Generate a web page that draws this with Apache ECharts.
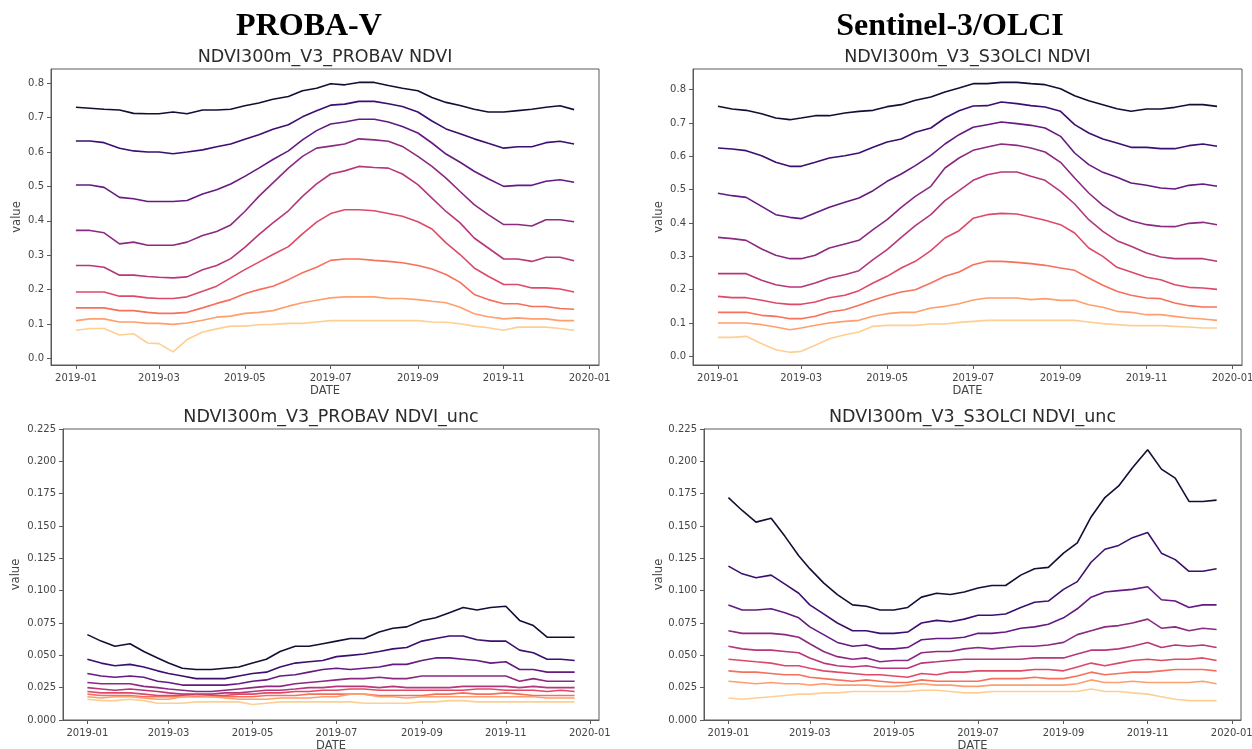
<!DOCTYPE html>
<html>
<head>
<meta charset="utf-8">
<title>NDVI300m V3 - PROBA-V / Sentinel-3 OLCI</title>
<script src="https://cdn.jsdelivr.net/npm/echarts@6/dist/echarts.min.js"></script>
<style>
  html, body { margin: 0; padding: 0; background: #fff; }
  #main { width: 1252px; height: 749px; }
</style>
</head>
<body>
<div id="main"></div>
<script>
// dekads of 2019
var dates = [
  '2019-01-01', '2019-01-11', '2019-01-21', '2019-02-01', '2019-02-11', '2019-02-21',
  '2019-03-01', '2019-03-11', '2019-03-21', '2019-04-01', '2019-04-11', '2019-04-21',
  '2019-05-01', '2019-05-11', '2019-05-21', '2019-06-01', '2019-06-11', '2019-06-21',
  '2019-07-01', '2019-07-11', '2019-07-21', '2019-08-01', '2019-08-11', '2019-08-21',
  '2019-09-01', '2019-09-11', '2019-09-21', '2019-10-01', '2019-10-11', '2019-10-21',
  '2019-11-01', '2019-11-11', '2019-11-21', '2019-12-01', '2019-12-11', '2019-12-21'
];
var monthTicks = ['2019-01-01', '2019-03-01', '2019-05-01', '2019-07-01', '2019-09-01', '2019-11-01', '2020-01-01'];
var ndviTicks = [0, 0.1, 0.2, 0.3, 0.4, 0.5, 0.6, 0.7, 0.8];
var uncTicks = [0, 0.025, 0.05, 0.075, 0.1, 0.125, 0.15, 0.175, 0.2, 0.225];

// magma, dark (top line) -> light (bottom line)
var magma = ['#140e36', '#3b0f70', '#641a80', '#8c2981', '#b73779', '#de4968', '#f7705c', '#fe9f6d', '#fecf92'];

// PROBA-V NDVI, one row per line, top to bottom
var probavNdvi = [
  [0.730, 0.727, 0.724, 0.722, 0.712, 0.711, 0.711, 0.716, 0.711, 0.722, 0.722, 0.724, 0.734, 0.742, 0.753, 0.761, 0.778, 0.785, 0.798, 0.795, 0.802, 0.802, 0.793, 0.785, 0.778, 0.758, 0.744, 0.735, 0.724, 0.716, 0.716, 0.720, 0.724, 0.730, 0.734, 0.723],
  [0.632, 0.632, 0.627, 0.611, 0.603, 0.600, 0.600, 0.595, 0.600, 0.606, 0.615, 0.623, 0.637, 0.650, 0.666, 0.679, 0.702, 0.720, 0.736, 0.739, 0.747, 0.747, 0.740, 0.732, 0.716, 0.690, 0.667, 0.653, 0.638, 0.625, 0.611, 0.615, 0.615, 0.627, 0.631, 0.623],
  [0.504, 0.504, 0.497, 0.468, 0.464, 0.456, 0.456, 0.456, 0.459, 0.478, 0.490, 0.507, 0.529, 0.553, 0.578, 0.603, 0.635, 0.662, 0.681, 0.687, 0.695, 0.695, 0.687, 0.674, 0.655, 0.626, 0.594, 0.570, 0.544, 0.522, 0.500, 0.503, 0.503, 0.515, 0.519, 0.512],
  [0.372, 0.372, 0.365, 0.333, 0.338, 0.329, 0.329, 0.329, 0.338, 0.357, 0.369, 0.388, 0.427, 0.471, 0.510, 0.553, 0.587, 0.611, 0.617, 0.623, 0.638, 0.635, 0.631, 0.616, 0.587, 0.558, 0.524, 0.485, 0.447, 0.418, 0.389, 0.389, 0.385, 0.403, 0.403, 0.397],
  [0.270, 0.270, 0.265, 0.242, 0.242, 0.238, 0.236, 0.234, 0.237, 0.258, 0.270, 0.290, 0.323, 0.360, 0.394, 0.429, 0.471, 0.507, 0.536, 0.545, 0.558, 0.555, 0.553, 0.536, 0.505, 0.466, 0.427, 0.394, 0.350, 0.321, 0.289, 0.289, 0.282, 0.294, 0.294, 0.284],
  [0.193, 0.193, 0.193, 0.181, 0.181, 0.176, 0.174, 0.174, 0.179, 0.195, 0.210, 0.234, 0.258, 0.280, 0.302, 0.325, 0.362, 0.396, 0.421, 0.432, 0.432, 0.429, 0.421, 0.413, 0.397, 0.376, 0.336, 0.302, 0.263, 0.239, 0.215, 0.215, 0.205, 0.205, 0.202, 0.193],
  [0.147, 0.147, 0.147, 0.139, 0.139, 0.134, 0.131, 0.131, 0.134, 0.147, 0.160, 0.171, 0.188, 0.200, 0.210, 0.229, 0.249, 0.265, 0.285, 0.289, 0.289, 0.285, 0.282, 0.278, 0.270, 0.260, 0.244, 0.221, 0.186, 0.171, 0.159, 0.159, 0.151, 0.151, 0.145, 0.143],
  [0.110, 0.115, 0.115, 0.106, 0.106, 0.102, 0.102, 0.099, 0.103, 0.111, 0.120, 0.123, 0.131, 0.134, 0.139, 0.152, 0.162, 0.169, 0.176, 0.179, 0.179, 0.179, 0.174, 0.174, 0.171, 0.166, 0.162, 0.149, 0.130, 0.121, 0.115, 0.118, 0.115, 0.115, 0.110, 0.110],
  [0.082, 0.087, 0.087, 0.068, 0.072, 0.045, 0.043, 0.019, 0.055, 0.077, 0.086, 0.094, 0.094, 0.098, 0.099, 0.102, 0.102, 0.106, 0.110, 0.110, 0.110, 0.110, 0.110, 0.110, 0.110, 0.106, 0.105, 0.101, 0.094, 0.089, 0.082, 0.091, 0.091, 0.091, 0.087, 0.082]
];

// Sentinel-3/OLCI NDVI
var s3olciNdvi = [
  [0.750, 0.742, 0.738, 0.728, 0.715, 0.710, 0.715, 0.722, 0.722, 0.730, 0.735, 0.738, 0.749, 0.755, 0.768, 0.778, 0.793, 0.805, 0.818, 0.818, 0.822, 0.822, 0.818, 0.815, 0.803, 0.782, 0.767, 0.755, 0.743, 0.735, 0.742, 0.742, 0.747, 0.755, 0.755, 0.750],
  [0.625, 0.622, 0.617, 0.602, 0.582, 0.570, 0.570, 0.582, 0.595, 0.602, 0.610, 0.627, 0.643, 0.652, 0.672, 0.685, 0.715, 0.737, 0.751, 0.752, 0.763, 0.758, 0.752, 0.748, 0.735, 0.695, 0.670, 0.652, 0.640, 0.627, 0.627, 0.623, 0.623, 0.632, 0.637, 0.630],
  [0.489, 0.482, 0.477, 0.450, 0.425, 0.417, 0.413, 0.430, 0.447, 0.462, 0.475, 0.497, 0.525, 0.547, 0.572, 0.603, 0.637, 0.665, 0.687, 0.695, 0.703, 0.698, 0.693, 0.685, 0.660, 0.610, 0.575, 0.552, 0.537, 0.520, 0.513, 0.505, 0.502, 0.513, 0.517, 0.510],
  [0.357, 0.353, 0.348, 0.322, 0.303, 0.293, 0.293, 0.303, 0.325, 0.337, 0.348, 0.380, 0.410, 0.447, 0.480, 0.510, 0.565, 0.595, 0.618, 0.628, 0.637, 0.633, 0.625, 0.613, 0.582, 0.535, 0.490, 0.453, 0.425, 0.407, 0.395, 0.390, 0.389, 0.399, 0.402, 0.395],
  [0.248, 0.248, 0.248, 0.228, 0.215, 0.208, 0.208, 0.220, 0.235, 0.245, 0.257, 0.290, 0.320, 0.357, 0.392, 0.425, 0.467, 0.497, 0.528, 0.545, 0.553, 0.553, 0.540, 0.528, 0.495, 0.457, 0.410, 0.375, 0.347, 0.330, 0.310, 0.298, 0.293, 0.293, 0.293, 0.285],
  [0.180, 0.176, 0.176, 0.168, 0.160, 0.156, 0.156, 0.163, 0.176, 0.183, 0.197, 0.220, 0.240, 0.265, 0.285, 0.317, 0.355, 0.377, 0.414, 0.425, 0.429, 0.427, 0.418, 0.408, 0.395, 0.370, 0.325, 0.300, 0.267, 0.253, 0.237, 0.230, 0.215, 0.207, 0.205, 0.201],
  [0.132, 0.132, 0.132, 0.123, 0.120, 0.113, 0.113, 0.120, 0.133, 0.140, 0.153, 0.168, 0.182, 0.193, 0.200, 0.220, 0.240, 0.253, 0.275, 0.285, 0.285, 0.282, 0.278, 0.273, 0.265, 0.258, 0.235, 0.213, 0.195, 0.183, 0.175, 0.173, 0.160, 0.152, 0.148, 0.148],
  [0.100, 0.100, 0.100, 0.095, 0.088, 0.080, 0.085, 0.093, 0.100, 0.105, 0.108, 0.120, 0.128, 0.132, 0.132, 0.145, 0.150, 0.158, 0.169, 0.175, 0.175, 0.175, 0.170, 0.173, 0.168, 0.168, 0.155, 0.147, 0.135, 0.132, 0.125, 0.125, 0.120, 0.115, 0.112, 0.108],
  [0.057, 0.057, 0.060, 0.038, 0.020, 0.012, 0.015, 0.033, 0.053, 0.065, 0.073, 0.090, 0.093, 0.093, 0.093, 0.097, 0.097, 0.102, 0.105, 0.108, 0.108, 0.108, 0.108, 0.108, 0.108, 0.108, 0.103, 0.098, 0.095, 0.092, 0.092, 0.092, 0.090, 0.088, 0.085, 0.085]
];

// PROBA-V NDVI_unc
var probavUnc = [
  [0.066, 0.061, 0.057, 0.059, 0.053, 0.048, 0.044, 0.040, 0.039, 0.039, 0.040, 0.041, 0.044, 0.047, 0.053, 0.057, 0.057, 0.059, 0.061, 0.063, 0.063, 0.068, 0.071, 0.072, 0.077, 0.079, 0.083, 0.087, 0.085, 0.087, 0.088, 0.077, 0.073, 0.064, 0.064, 0.064],
  [0.047, 0.044, 0.042, 0.043, 0.041, 0.038, 0.036, 0.034, 0.032, 0.032, 0.032, 0.034, 0.036, 0.037, 0.041, 0.044, 0.045, 0.046, 0.049, 0.050, 0.051, 0.053, 0.055, 0.056, 0.061, 0.063, 0.065, 0.065, 0.062, 0.061, 0.061, 0.054, 0.052, 0.047, 0.047, 0.046],
  [0.036, 0.034, 0.033, 0.034, 0.033, 0.030, 0.029, 0.027, 0.027, 0.027, 0.027, 0.028, 0.030, 0.031, 0.034, 0.035, 0.037, 0.039, 0.040, 0.039, 0.040, 0.041, 0.043, 0.043, 0.046, 0.048, 0.048, 0.047, 0.046, 0.044, 0.045, 0.039, 0.039, 0.037, 0.037, 0.037],
  [0.029, 0.028, 0.028, 0.028, 0.026, 0.025, 0.024, 0.023, 0.022, 0.022, 0.023, 0.024, 0.025, 0.026, 0.026, 0.028, 0.029, 0.030, 0.031, 0.032, 0.032, 0.033, 0.032, 0.032, 0.034, 0.034, 0.034, 0.034, 0.034, 0.034, 0.034, 0.030, 0.032, 0.030, 0.030, 0.030],
  [0.025, 0.024, 0.023, 0.024, 0.023, 0.022, 0.021, 0.020, 0.020, 0.020, 0.021, 0.021, 0.022, 0.023, 0.023, 0.024, 0.025, 0.025, 0.026, 0.026, 0.026, 0.025, 0.026, 0.025, 0.025, 0.025, 0.025, 0.026, 0.026, 0.026, 0.026, 0.025, 0.026, 0.025, 0.025, 0.025],
  [0.022, 0.021, 0.021, 0.021, 0.020, 0.019, 0.019, 0.019, 0.019, 0.019, 0.019, 0.020, 0.020, 0.021, 0.021, 0.022, 0.022, 0.023, 0.023, 0.024, 0.024, 0.023, 0.023, 0.023, 0.023, 0.023, 0.023, 0.023, 0.024, 0.024, 0.023, 0.023, 0.023, 0.022, 0.023, 0.022],
  [0.020, 0.019, 0.019, 0.019, 0.018, 0.018, 0.018, 0.018, 0.018, 0.018, 0.018, 0.018, 0.018, 0.019, 0.019, 0.019, 0.020, 0.020, 0.020, 0.020, 0.020, 0.019, 0.019, 0.019, 0.019, 0.020, 0.020, 0.021, 0.020, 0.020, 0.021, 0.020, 0.019, 0.019, 0.019, 0.019],
  [0.018, 0.017, 0.018, 0.018, 0.017, 0.016, 0.016, 0.018, 0.019, 0.018, 0.017, 0.016, 0.016, 0.016, 0.017, 0.017, 0.017, 0.018, 0.018, 0.020, 0.020, 0.018, 0.018, 0.017, 0.018, 0.018, 0.018, 0.018, 0.018, 0.018, 0.018, 0.018, 0.018, 0.017, 0.017, 0.017],
  [0.016, 0.015, 0.015, 0.016, 0.015, 0.013, 0.013, 0.013, 0.014, 0.014, 0.014, 0.014, 0.012, 0.013, 0.014, 0.014, 0.014, 0.014, 0.014, 0.014, 0.013, 0.013, 0.013, 0.013, 0.014, 0.014, 0.015, 0.015, 0.014, 0.014, 0.014, 0.014, 0.014, 0.014, 0.014, 0.014]
];

// Sentinel-3/OLCI NDVI_unc
var s3olciUnc = [
  [0.172, 0.162, 0.153, 0.156, 0.142, 0.127, 0.117, 0.106, 0.097, 0.089, 0.088, 0.085, 0.085, 0.087, 0.095, 0.098, 0.097, 0.099, 0.102, 0.104, 0.104, 0.112, 0.117, 0.118, 0.129, 0.137, 0.157, 0.172, 0.181, 0.195, 0.209, 0.194, 0.187, 0.169, 0.169, 0.170],
  [0.119, 0.113, 0.110, 0.112, 0.105, 0.098, 0.089, 0.082, 0.075, 0.069, 0.069, 0.067, 0.067, 0.068, 0.075, 0.077, 0.076, 0.078, 0.081, 0.081, 0.082, 0.087, 0.091, 0.092, 0.101, 0.107, 0.122, 0.132, 0.135, 0.141, 0.145, 0.129, 0.124, 0.115, 0.115, 0.117],
  [0.089, 0.085, 0.085, 0.086, 0.083, 0.079, 0.072, 0.066, 0.060, 0.057, 0.058, 0.055, 0.055, 0.056, 0.062, 0.063, 0.063, 0.064, 0.067, 0.067, 0.068, 0.071, 0.072, 0.074, 0.079, 0.086, 0.095, 0.099, 0.100, 0.101, 0.103, 0.093, 0.092, 0.087, 0.089, 0.089],
  [0.069, 0.067, 0.067, 0.067, 0.066, 0.064, 0.059, 0.053, 0.049, 0.047, 0.048, 0.045, 0.046, 0.046, 0.052, 0.053, 0.053, 0.055, 0.056, 0.055, 0.056, 0.057, 0.057, 0.058, 0.060, 0.066, 0.069, 0.072, 0.073, 0.075, 0.078, 0.071, 0.072, 0.069, 0.071, 0.070],
  [0.057, 0.055, 0.054, 0.054, 0.053, 0.052, 0.048, 0.044, 0.042, 0.041, 0.042, 0.040, 0.040, 0.040, 0.044, 0.045, 0.046, 0.047, 0.047, 0.047, 0.047, 0.047, 0.048, 0.048, 0.048, 0.051, 0.054, 0.054, 0.055, 0.057, 0.060, 0.056, 0.058, 0.057, 0.058, 0.056],
  [0.047, 0.046, 0.045, 0.044, 0.042, 0.042, 0.040, 0.038, 0.037, 0.036, 0.035, 0.035, 0.034, 0.033, 0.036, 0.035, 0.037, 0.037, 0.038, 0.038, 0.038, 0.038, 0.039, 0.039, 0.038, 0.041, 0.044, 0.042, 0.044, 0.046, 0.047, 0.046, 0.047, 0.047, 0.048, 0.046],
  [0.038, 0.037, 0.037, 0.036, 0.035, 0.035, 0.033, 0.032, 0.031, 0.030, 0.031, 0.030, 0.029, 0.029, 0.031, 0.030, 0.030, 0.030, 0.030, 0.032, 0.032, 0.032, 0.033, 0.032, 0.032, 0.034, 0.037, 0.035, 0.036, 0.037, 0.037, 0.038, 0.039, 0.039, 0.039, 0.038],
  [0.030, 0.029, 0.028, 0.029, 0.028, 0.028, 0.027, 0.028, 0.027, 0.027, 0.027, 0.026, 0.026, 0.027, 0.028, 0.027, 0.027, 0.026, 0.026, 0.027, 0.027, 0.027, 0.027, 0.027, 0.027, 0.028, 0.031, 0.029, 0.029, 0.030, 0.029, 0.029, 0.029, 0.029, 0.030, 0.028],
  [0.017, 0.016, 0.017, 0.018, 0.019, 0.020, 0.020, 0.021, 0.021, 0.022, 0.022, 0.022, 0.022, 0.022, 0.023, 0.023, 0.022, 0.021, 0.021, 0.022, 0.022, 0.022, 0.022, 0.022, 0.022, 0.022, 0.024, 0.022, 0.022, 0.021, 0.020, 0.018, 0.016, 0.015, 0.015, 0.015]
];

var chart = echarts.init(document.getElementById('main'));
window.addEventListener('resize', chart.resize);

// x axis runs in days since 2019-01-01 (UTC)
var DAY = 86400000;
var jan1 = Date.UTC(2019, 0, 1);
function dayOf(s) { return (Date.parse(s) - jan1) / DAY; }
var xDays = dates.map(dayOf);
var xTicks = monthTicks.map(dayOf);
var xMin = -17.7;
var xMax = 371.7;

var axisColor = '#5a5a5a';
var labelColor = '#444';
var font = 'DejaVu Sans';

// layout of the four panels
var panels = [
  { title: 'NDVI300m_V3_PROBAV NDVI', rows: probavNdvi, box: [51, 69, 548, 296], y: [-0.019, 0.841], ticks: ndviTicks, digits: 1, gap: 28 },
  { title: 'NDVI300m_V3_S3OLCI NDVI', rows: s3olciNdvi, box: [693, 69, 549, 296], y: [-0.026, 0.862], ticks: ndviTicks, digits: 1, gap: 28 },
  { title: 'NDVI300m_V3_PROBAV NDVI_unc', rows: probavUnc, box: [63, 429, 536, 291], y: [0, 0.225], ticks: uncTicks, digits: 3, gap: 41 },
  { title: 'NDVI300m_V3_S3OLCI NDVI_unc', rows: s3olciUnc, box: [704, 429, 537, 291], y: [0, 0.225], ticks: uncTicks, digits: 3, gap: 39 }
];

function monthLabel(v) {
  var d = new Date(jan1 + Math.round(v) * DAY);
  return d.getUTCFullYear() + '-' + String(d.getUTCMonth() + 1).padStart(2, '0');
}

var titles = [
  { text: 'PROBA-V', left: 309, top: 11, textAlign: 'center', padding: 0,
    textStyle: { fontFamily: 'Liberation Serif', fontWeight: 'bold', fontSize: 32, color: '#000' } },
  { text: 'Sentinel-3/OLCI', left: 950, top: 11, textAlign: 'center', padding: 0,
    textStyle: { fontFamily: 'Liberation Serif', fontWeight: 'bold', fontSize: 32, color: '#000' } }
];
var grids = [], xAxes = [], yAxes = [], series = [];

panels.forEach(function (p, i) {
  var b = p.box;
  grids.push({
    left: b[0], top: b[1], width: b[2], height: b[3],
    show: true, borderColor: axisColor, borderWidth: 1, backgroundColor: '#fff',
    containLabel: false, outerBoundsMode: 'none'
  });
  titles.push({
    text: p.title, left: b[0] + b[2] / 2, top: b[1] - 21, textAlign: 'center', padding: 0,
    textStyle: { fontFamily: font, fontWeight: 'normal', fontSize: 17.5, color: '#2b2b2b' }
  });
  xAxes.push({
    type: 'value', gridIndex: i, min: xMin, max: xMax,
    name: 'DATE', nameLocation: 'middle', nameGap: 20, nameMoveOverlap: false,
    nameTextStyle: { fontFamily: font, fontSize: 11.5, color: labelColor },
    axisLine: { show: true, onZero: false, lineStyle: { color: axisColor, width: 1 } },
    axisTick: { show: true, length: 4, customValues: xTicks, lineStyle: { color: axisColor } },
    axisLabel: { customValues: xTicks, formatter: monthLabel, margin: 8,
      fontFamily: font, fontSize: 10, color: labelColor, hideOverlap: false },
    splitLine: { show: false }
  });
  yAxes.push({
    type: 'value', gridIndex: i, min: p.y[0], max: p.y[1],
    name: 'value', nameLocation: 'middle', nameGap: p.gap, nameMoveOverlap: false,
    nameTextStyle: { fontFamily: font, fontSize: 11.5, color: labelColor },
    axisLine: { show: true, onZero: false, lineStyle: { color: axisColor, width: 1 } },
    axisTick: { show: true, length: 4, customValues: p.ticks, lineStyle: { color: axisColor } },
    axisLabel: { customValues: p.ticks, margin: 7, fontFamily: font, fontSize: 10, color: labelColor,
      formatter: function (v) { return v.toFixed(p.digits); } },
    splitLine: { show: false }
  });
  p.rows.forEach(function (row, j) {
    series.push({
      type: 'line', xAxisIndex: i, yAxisIndex: i,
      data: xDays.map(function (x, k) { return [x, row[k]]; }),
      symbol: 'none', showSymbol: false, silent: true,
      lineStyle: { color: magma[j], width: 1.6 },
      itemStyle: { color: magma[j] }
    });
  });
});

var option = {
  backgroundColor: '#fff',
  animation: false,
  title: titles,
  grid: grids,
  xAxis: xAxes,
  yAxis: yAxes,
  series: series
};

option && chart.setOption(option);
</script>
</body>
</html>
